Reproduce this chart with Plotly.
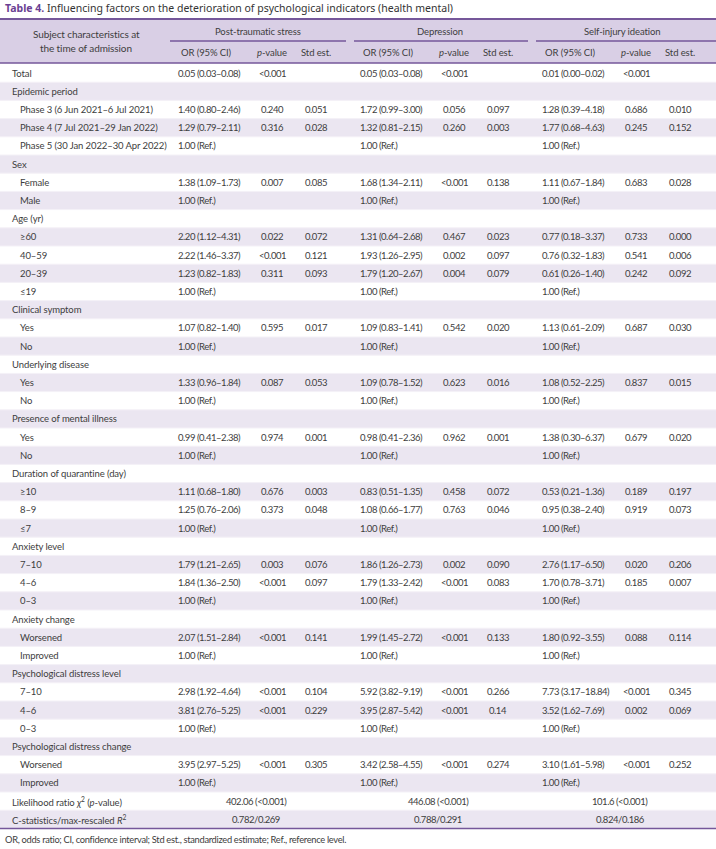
import plotly.graph_objects as go

# ---------------- data ----------------
title_bold = "Table 4."
title_rest = "Influencing factors on the deterioration of psychological indicators (health mental)"
row_labels = [
    "Total", "Epidemic period",
    "Phase 3 (6 Jun 2021–6 Jul 2021)", "Phase 4 (7 Jul 2021–29 Jan 2022)", "Phase 5 (30 Jan 2022–30 Apr 2022)",
    "Sex", "Female", "Male",
    "Age (yr)", "≥60", "40–59", "20–39", "≤19",
    "Clinical symptom", "Yes", "No",
    "Underlying disease", "Yes", "No",
    "Presence of mental illness", "Yes", "No",
    "Duration of quarantine (day)", "≥10", "8–9", "≤7",
    "Anxiety level", "7–10", "4–6", "0–3",
    "Anxiety change", "Worsened", "Improved",
    "Psychological distress level", "7–10", "4–6", "0–3",
    "Psychological distress change", "Worsened", "Improved",
]
row_level = [0, 0, 1, 1, 1, 0, 1, 1, 0, 1, 1, 1, 1, 0, 1, 1, 0, 1, 1, 0, 1, 1,
             0, 1, 1, 1, 0, 1, 1, 1, 0, 1, 1, 0, 1, 1, 1, 0, 1, 1]

groups = ["Post-traumatic stress", "Depression", "Self-injury ideation"]
sub_headers = ["OR (95% CI)", "<i>p</i>-value", "Std est."]
R = "1.00 (Ref.)"

pts_or = ["0.05 (0.03–0.08)", "", "1.40 (0.80–2.46)", "1.29 (0.79–2.11)", R, "", "1.38 (1.09–1.73)", R, "",
          "2.20 (1.12–4.31)", "2.22 (1.46–3.37)", "1.23 (0.82–1.83)", R, "", "1.07 (0.82–1.40)", R, "",
          "1.33 (0.96–1.84)", R, "", "0.99 (0.41–2.38)", R, "", "1.11 (0.68–1.80)", "1.25 (0.76–2.06)", R, "",
          "1.79 (1.21–2.65)", "1.84 (1.36–2.50)", R, "", "2.07 (1.51–2.84)", R, "",
          "2.98 (1.92–4.64)", "3.81 (2.76–5.25)", R, "", "3.95 (2.97–5.25)", R]
pts_p = ["<0.001", "", "0.240", "0.316", "", "", "0.007", "", "", "0.022", "<0.001", "0.311", "", "",
         "0.595", "", "", "0.087", "", "", "0.974", "", "", "0.676", "0.373", "", "", "0.003", "<0.001", "",
         "", "<0.001", "", "", "<0.001", "<0.001", "", "", "<0.001", ""]
pts_std = ["", "", "0.051", "0.028", "", "", "0.085", "", "", "0.072", "0.121", "0.093", "", "", "0.017",
           "", "", "0.053", "", "", "0.001", "", "", "0.003", "0.048", "", "", "0.076", "0.097", "", "",
           "0.141", "", "", "0.104", "0.229", "", "", "0.305", ""]

dep_or = ["0.05 (0.03–0.08)", "", "1.72 (0.99–3.00)", "1.32 (0.81–2.15)", R, "", "1.68 (1.34–2.11)", R, "",
          "1.31 (0.64–2.68)", "1.93 (1.26–2.95)", "1.79 (1.20–2.67)", R, "", "1.09 (0.83–1.41)", R, "",
          "1.09 (0.78–1.52)", R, "", "0.98 (0.41–2.36)", R, "", "0.83 (0.51–1.35)", "1.08 (0.66–1.77)", R, "",
          "1.86 (1.26–2.73)", "1.79 (1.33–2.42)", R, "", "1.99 (1.45–2.72)", R, "",
          "5.92 (3.82–9.19)", "3.95 (2.87–5.42)", R, "", "3.42 (2.58–4.55)", R]
dep_p = ["<0.001", "", "0.056", "0.260", "", "", "<0.001", "", "", "0.467", "0.002", "0.004", "", "",
         "0.542", "", "", "0.623", "", "", "0.962", "", "", "0.458", "0.763", "", "", "0.002", "<0.001", "",
         "", "<0.001", "", "", "<0.001", "<0.001", "", "", "<0.001", ""]
dep_std = ["", "", "0.097", "0.003", "", "", "0.138", "", "", "0.023", "0.097", "0.079", "", "", "0.020",
           "", "", "0.016", "", "", "0.001", "", "", "0.072", "0.046", "", "", "0.090", "0.083", "", "",
           "0.133", "", "", "0.266", "0.14", "", "", "0.274", ""]

si_or = ["0.01 (0.00–0.02)", "", "1.28 (0.39–4.18)", "1.77 (0.68–4.63)", R, "", "1.11 (0.67–1.84)", R, "",
         "0.77 (0.18–3.37)", "0.76 (0.32–1.83)", "0.61 (0.26–1.40)", R, "", "1.13 (0.61–2.09)", R, "",
         "1.08 (0.52–2.25)", R, "", "1.38 (0.30–6.37)", R, "", "0.53 (0.21–1.36)", "0.95 (0.38–2.40)", R, "",
         "2.76 (1.17–6.50)", "1.70 (0.78–3.71)", R, "", "1.80 (0.92–3.55)", R, "",
         "7.73 (3.17–18.84)", "3.52 (1.62–7.69)", R, "", "3.10 (1.61–5.98)", R]
si_p = ["<0.001", "", "0.686", "0.245", "", "", "0.683", "", "", "0.733", "0.541", "0.242", "", "",
        "0.687", "", "", "0.837", "", "", "0.679", "", "", "0.189", "0.919", "", "", "0.020", "0.185", "",
        "", "0.088", "", "", "<0.001", "0.002", "", "", "<0.001", ""]
si_std = ["", "", "0.010", "0.152", "", "", "0.028", "", "", "0.000", "0.006", "0.092", "", "", "0.030",
          "", "", "0.015", "", "", "0.020", "", "", "0.197", "0.073", "", "", "0.206", "0.007", "", "",
          "0.114", "", "", "0.345", "0.069", "", "", "0.252", ""]

summary_labels = ["Likelihood ratio <i>χ</i><sup>2</sup> (<i>p</i>-value)",
                  "C-statistics/max-rescaled <i>R</i><sup>2</sup>"]
lr_values = ["402.06 (<0.001)", "446.08 (<0.001)", "101.6 (<0.001)"]
cstat_values = ["0.782/0.269", "0.788/0.291", "0.824/0.186"]
footnote = "OR, odds ratio; CI, confidence interval; Std est., standardized estimate; Ref., reference level."

# ---------------- style ----------------
W, H = 716, 849
FONT = "Lato, sans-serif"
TXT = "#3d3d3d"
PURPLE = "#75579a"
HEAD_FILL = "#d9cfe5"
STRIPE = "#ebe6f1"
FS = 9.5
LS_NUM = -0.45    # letter spacing for numeric cells
LS_LAB = -0.1     # letter spacing for labels / headers

head_top, head_bot = 19, 63
body_top, row_h = 64, 18.2
group_x = [170, 352, 534]
group_w = 182
or_off, p_off, std_off, sum_off, grp_off = 6, 102, 146, 86, 88

fig = go.Figure()
fig.add_trace(go.Scatter(x=[0, W], y=[0, H], mode="markers", marker=dict(opacity=0),
                         hoverinfo="skip", showlegend=False))

shapes, ann = [], []

def text(x, y, s, anchor="left", size=FS, color=TXT, font=FONT, ls=LS_LAB):
    s = s.replace("<0", "&lt;0")
    if ls:
        s = f"<span style='letter-spacing:{ls}px'>{s}</span>"
    ann.append(dict(x=x, y=y, xref="x", yref="y", text=s, showarrow=False, xanchor=anchor,
                    yanchor="middle", font=dict(family=font, size=size, color=color)))

# title
text(3, 8, f"<b><span style='color:#6b3f93'>{title_bold}</span></b> {title_rest}",
     size=10.5, font="Noto Sans, Open Sans, sans-serif", color="#333", ls=0)

# header
shapes.append(dict(type="rect", x0=0, x1=W, y0=head_top, y1=head_bot, fillcolor=HEAD_FILL, line_width=0,
                   layer="below"))
shapes.append(dict(type="line", x0=0, x1=W, y0=head_top, y1=head_top, line=dict(color=PURPLE, width=2)))
shapes.append(dict(type="line", x0=0, x1=W, y0=head_bot, y1=head_bot, line=dict(color=PURPLE, width=1.5)))
text(86, 34, "Subject characteristics at", anchor="center", size=10)
text(86, 48, "the time of admission", anchor="center", size=10)
for gi, g in enumerate(groups):
    gx = group_x[gi]
    x0 = gx + (0 if gi == 0 else 2)
    x1 = gx + group_w - (6 if gi < 2 else 0)
    shapes.append(dict(type="line", x0=x0, x1=x1, y0=41, y1=41, line=dict(color=PURPLE, width=1.5)))
    text(gx + grp_off, 31, g, anchor="center")
    centers = [gx + or_off + 30, gx + p_off, gx + std_off]
    for c, sh in zip(centers, sub_headers):
        text(c, 52, sh, anchor="center")

# body rows
n = len(row_labels) + len(summary_labels)
for i in range(n):
    y0 = body_top + i * row_h
    if i % 2 == 1:
        shapes.append(dict(type="rect", x0=0, x1=W, y0=y0, y1=y0 + row_h, fillcolor=STRIPE, line_width=0,
                           layer="below"))
    if i > 0:
        shapes.append(dict(type="line", x0=0, x1=W, y0=y0, y1=y0, line=dict(color="#f4f1f7", width=1),
                           layer="below"))

cols = [(pts_or, pts_p, pts_std), (dep_or, dep_p, dep_std), (si_or, si_p, si_std)]
for i, lab in enumerate(row_labels):
    yc = body_top + (i + 0.5) * row_h
    text(10 if row_level[i] == 0 else 18, yc, lab)
    for gi, (o, p, s) in enumerate(cols):
        gx = group_x[gi]
        if o[i]:
            text(gx + or_off, yc, o[i], ls=LS_NUM)
        if p[i]:
            text(gx + p_off, yc, p[i], anchor="center", ls=LS_NUM)
        if s[i]:
            text(gx + std_off, yc, s[i], anchor="center", ls=LS_NUM)

for k, (lab, vals) in enumerate(zip(summary_labels, [lr_values, cstat_values])):
    i = len(row_labels) + k
    yc = body_top + (i + 0.5) * row_h
    text(10, yc, lab)
    for gi, v in enumerate(vals):
        text(group_x[gi] + sum_off, yc, v, anchor="center", ls=LS_NUM)

bottom = body_top + n * row_h
shapes.append(dict(type="line", x0=0, x1=W, y0=bottom, y1=bottom, line=dict(color=PURPLE, width=1.5)))
text(3, bottom + 11, footnote, size=9.3, ls=-0.3)

fig.update_layout(
    width=W, height=H, autosize=False, margin=dict(l=0, r=0, t=0, b=0),
    paper_bgcolor="white", plot_bgcolor="white",
    xaxis=dict(range=[0, W], visible=False, fixedrange=True),
    yaxis=dict(range=[H, 0], visible=False, fixedrange=True),
    shapes=shapes, annotations=ann, showlegend=False,
)
fig.write_html("out.html", config={"displayModeBar": False},
               post_script="document.body.style.margin='0';")
